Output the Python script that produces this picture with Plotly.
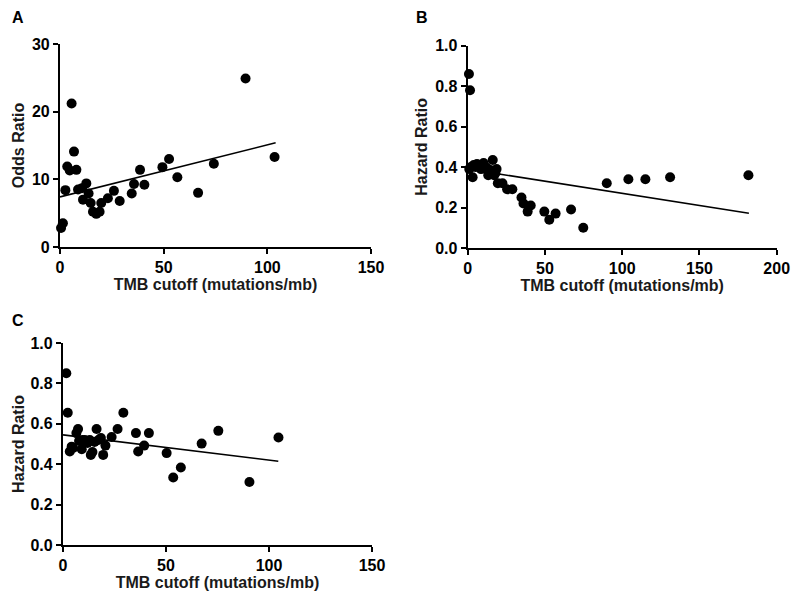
import plotly.graph_objects as go

# ---------------- data ----------------
A_x = [0.5, 1.4, 2.6, 3.5, 4.7, 5.6, 6.75, 7.9, 8.7, 10.6, 11.1, 12.7, 13.8, 14.8, 15.9, 17.5, 19.1,
       19.9, 23.1, 26.0, 28.8, 34.6, 35.7, 38.6, 40.7, 49.4, 52.6, 56.6, 66.6, 74.2, 89.5, 103.5]
A_y = [2.8, 3.5, 8.4, 11.9, 11.3, 21.2, 14.1, 11.4, 8.5, 8.7, 7.0, 9.4, 7.9, 6.5, 5.2, 4.9, 5.2,
       6.5, 7.2, 8.3, 6.8, 7.9, 9.3, 11.4, 9.2, 11.8, 13.0, 10.3, 8.0, 12.3, 24.9, 13.3]
A_fit_x = [0, 104]
A_fit_y = [7.4, 15.4]

B_x = [0.8, 1.5, 1.0, 2.1, 3.2, 3.9, 5.0, 6.0, 6.9, 8.2, 8.6, 10.3, 11.2, 12.5, 13.3, 13.6, 14.6,
       16.2, 17.1, 17.9, 18.7, 19.5, 22.5, 25.5, 28.9, 34.8, 36.1, 38.8, 40.8, 49.6, 52.8, 56.9,
       66.9, 74.8, 90.0, 104.0, 115.0, 131.0, 181.7]
B_y = [0.86, 0.78, 0.39, 0.40, 0.35, 0.41, 0.40, 0.415, 0.41, 0.40, 0.39, 0.42, 0.40, 0.395, 0.36,
       0.37, 0.385, 0.435, 0.36, 0.37, 0.39, 0.32, 0.32, 0.29, 0.29, 0.25, 0.22, 0.18, 0.21, 0.18,
       0.14, 0.17, 0.19, 0.10, 0.32, 0.34, 0.34, 0.35, 0.36]
B_fit_x = [0, 182]
B_fit_y = [0.39, 0.172]

C_x = [1.6, 2.3, 3.3, 4.2, 4.9, 6.5, 7.3, 7.8, 9.1, 9.4, 10.6, 11.9, 13.0, 13.5, 14.3, 15.3, 16.3,
       17.2, 18.4, 19.5, 20.6, 23.6, 26.5, 29.3, 35.4, 36.5, 39.4, 41.7, 50.3, 53.5, 57.2, 67.3,
       75.4, 90.5, 104.6]
C_y = [0.85, 0.655, 0.463, 0.487, 0.48, 0.554, 0.574, 0.515, 0.474, 0.52, 0.52, 0.505, 0.52, 0.446,
       0.46, 0.51, 0.574, 0.52, 0.53, 0.446, 0.492, 0.535, 0.574, 0.655, 0.554, 0.463, 0.492, 0.554,
       0.455, 0.334, 0.384, 0.502, 0.565, 0.312, 0.532]
C_fit_x = [0, 104.5]
C_fit_y = [0.545, 0.415]

panel_letters = ["A", "B", "C"]
x_title = "TMB cutoff (mutations/mb)"
y_titles = ["Odds Ratio", "Hazard Ratio", "Hazard Ratio"]

# ---------------- figure ----------------
W, H = 800, 603
OFF = 8  # page body margin offset in the browser
FONT = "Arial, Liberation Sans, Helvetica, sans-serif"

fig = go.Figure()

panels = [
    (A_x, A_y, A_fit_x, A_fit_y, "x", "y"),
    (B_x, B_y, B_fit_x, B_fit_y, "x2", "y2"),
    (C_x, C_y, C_fit_x, C_fit_y, "x3", "y3"),
]
for px_, py_, fx, fy, xa, ya in panels:
    fig.add_trace(go.Scatter(x=fx, y=fy, mode="lines", xaxis=xa, yaxis=ya,
                             line=dict(color="black", width=1.6), showlegend=False,
                             hoverinfo="skip"))
    fig.add_trace(go.Scatter(x=px_, y=py_, mode="markers", xaxis=xa, yaxis=ya,
                             marker=dict(color="black", size=10, line=dict(width=0)),
                             cliponaxis=False, showlegend=False))

# pixel boxes of the plot areas on screen: (left, right, top, bottom)
boxes = [(60, 371, 44, 247), (467.7, 776.7, 45.7, 248), (63, 372, 343, 545)]
x_ranges = [[0, 150], [0, 200], [0, 150]]
x_dticks = [50, 50, 50]
y_ranges = [[0, 30], [0, 1.0], [0, 1.0]]
y_dticks = [10, 0.2, 0.2]
y_formats = ["d", ".1f", ".1f"]
y_standoffs = [3, 4, 2]
x_standoffs = [2, 2, 2]

tickfont = dict(family=FONT, size=16, color="black", weight="bold")
titlefont = dict(family=FONT, size=16, color="#1a1a1a", weight="bold")

for i, (l, r, t, b) in enumerate(boxes):
    l, r, t, b = l - OFF, r - OFF, t - OFF, b - OFF
    sfx = "" if i == 0 else str(i + 1)
    fig.layout["xaxis" + sfx] = dict(
        domain=[l / W, r / W], anchor="y" + sfx, range=x_ranges[i], dtick=x_dticks[i],
        tick0=0, showline=True, linecolor="black", linewidth=2.2, ticks="outside",
        ticklen=5, tickwidth=2, tickcolor="black", showgrid=False, zeroline=False,
        tickfont=tickfont, automargin=False,
        title=dict(text=x_title, font=titlefont, standoff=x_standoffs[i]))
    fig.layout["yaxis" + sfx] = dict(
        domain=[1 - b / H, 1 - t / H], anchor="x" + sfx, range=y_ranges[i], dtick=y_dticks[i],
        tick0=0, tickformat=y_formats[i], showline=True, linecolor="black", linewidth=2.2,
        ticks="outside", ticklen=5, tickwidth=2, tickcolor="black", showgrid=False,
        zeroline=False, tickfont=tickfont, automargin=False,
        title=dict(text=y_titles[i], font=titlefont, standoff=y_standoffs[i]))

letter_pos = [(18, 17), (422, 17), (18, 320)]
for letter, (lx, ly) in zip(panel_letters, letter_pos):
    fig.add_annotation(text=letter, x=(lx - OFF) / W, y=1 - (ly - OFF) / H,
                       xref="paper", yref="paper",
                       showarrow=False, xanchor="center", yanchor="middle",
                       font=dict(family=FONT, size=16, color="black", weight="bold"))

fig.update_layout(width=W, height=H, margin=dict(l=0, r=0, t=0, b=0),
                  paper_bgcolor="white", plot_bgcolor="white")

fig.write_html("out.html")
